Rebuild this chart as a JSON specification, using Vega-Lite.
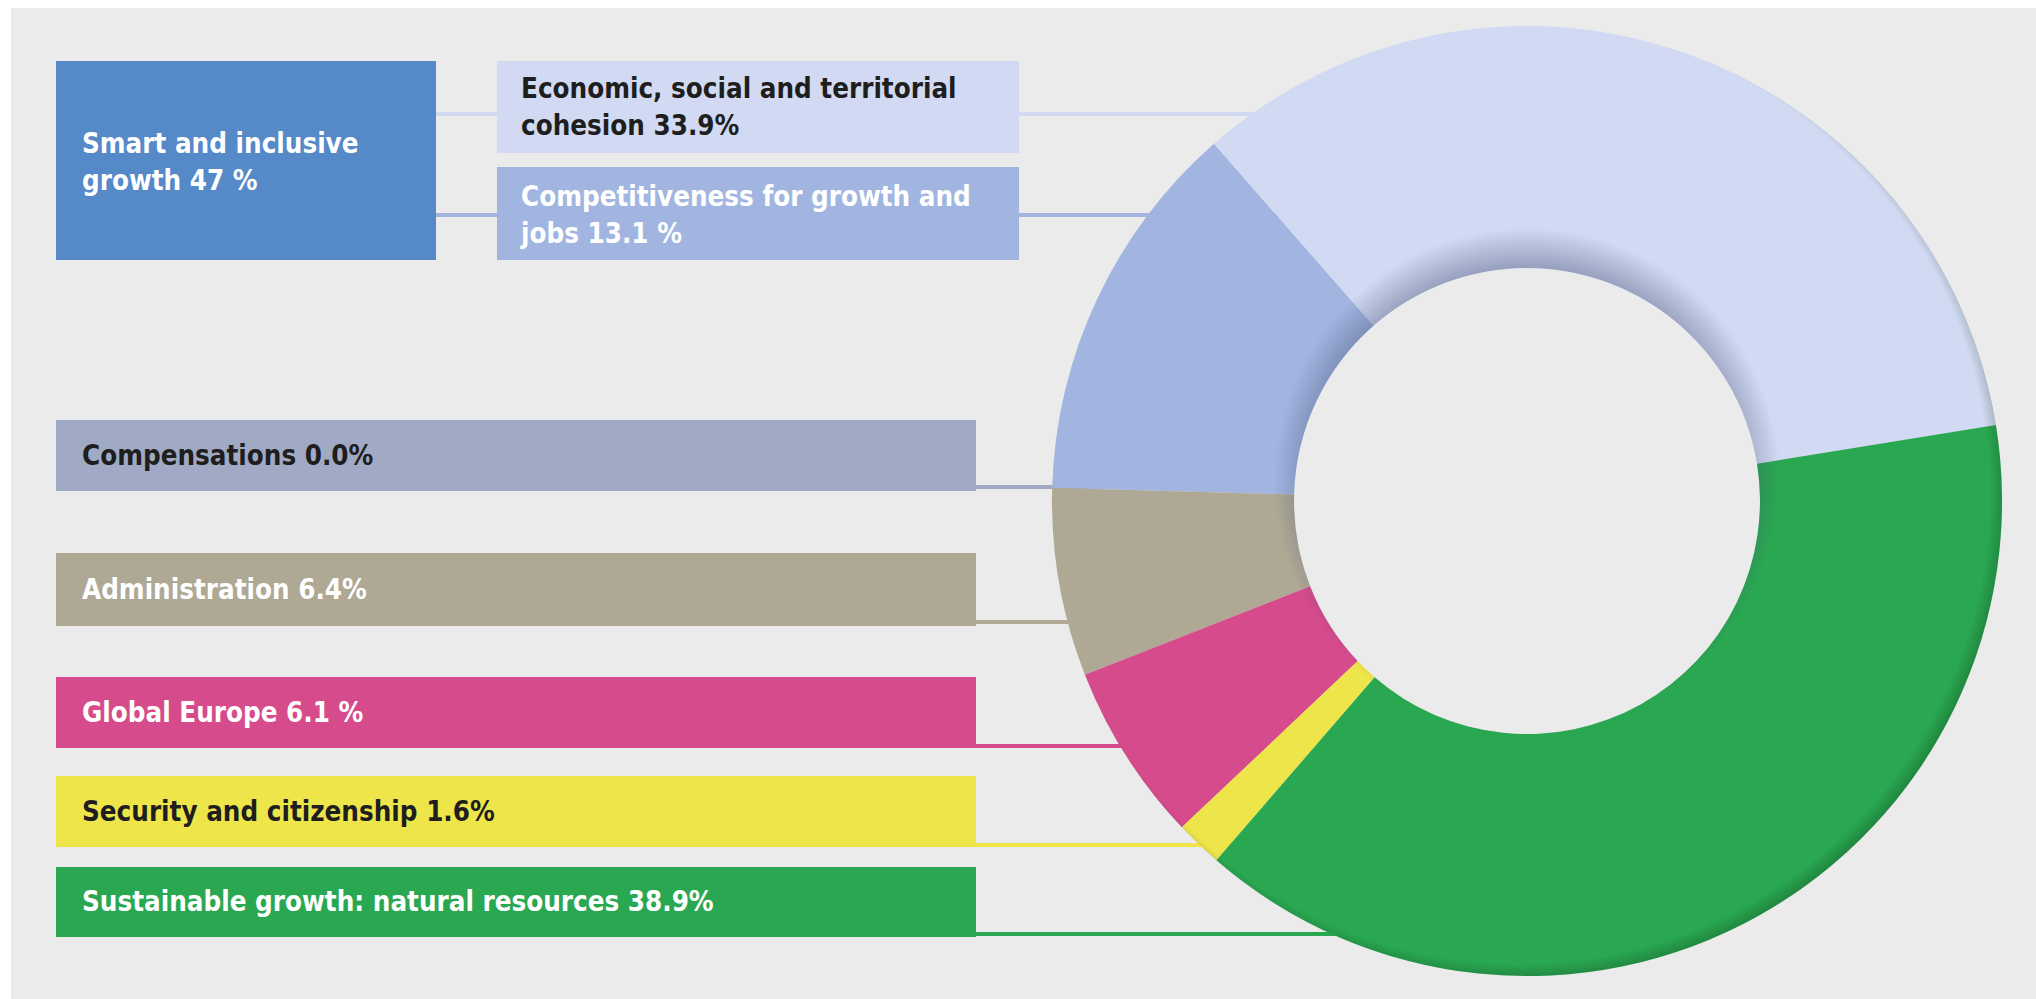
{
  "$schema": "https://vega.github.io/schema/vega-lite/v6.json",
  "width": 2036,
  "height": 999,
  "autosize": {"type": "fit", "contains": "padding"},
  "padding": {"left": 11, "top": 8, "right": 0, "bottom": 0},
  "background": "#FFFFFF",
  "config": {
    "view": {"stroke": null, "fill": "#EBEBEB"},
    "text": {"font": "DejaVu Sans Condensed", "fontWeight": "bold", "fontSize": 27.5, "align": "left", "baseline": "middle", "lineBreak": "\n", "lineHeight": 37}
  },
  "datasets": {
    "items": [
      {"id": "smart", "label": "Smart and inclusive\ngrowth 47 %", "value": 47, "rank": 0},
      {"id": "econ", "label": "Economic, social and territorial\ncohesion 33.9%", "value": 33.9, "rank": 7},
      {"id": "compet", "label": "Competitiveness for growth and\njobs 13.1 %", "value": 13.1, "rank": 6},
      {"id": "comp", "label": "Compensations 0.0%", "value": 0.0, "rank": 5},
      {"id": "admin", "label": "Administration 6.4%", "value": 6.4, "rank": 4},
      {"id": "global", "label": "Global Europe 6.1 %", "value": 6.1, "rank": 3},
      {"id": "security", "label": "Security and citizenship 1.6%", "value": 1.6, "rank": 2},
      {"id": "green", "label": "Sustainable growth: natural resources 38.9%", "value": 38.9, "rank": 1}
    ]
  },
  "data": {"name": "items"},
  "layer": [
    {
      "transform": [{"filter": "datum.id === 'econ'"}],
      "layer": [
        {"mark": {"type": "rule", "strokeWidth": 4, "color": "#D1DAF2"}, "encoding": {"x": {"value": 425}, "x2": {"value": 1400}, "y": {"value": 106}}},
        {"mark": {"type": "rect", "color": "#D1DAF2"}, "encoding": {"x": {"value": 486}, "x2": {"value": 1008}, "y": {"value": 53}, "y2": {"value": 145}}},
        {"mark": {"type": "text", "color": "#1E1E1E"}, "encoding": {"x": {"value": 510}, "y": {"value": 82}, "text": {"field": "label"}}}
      ]
    },
    {
      "transform": [{"filter": "datum.id === 'compet'"}],
      "layer": [
        {"mark": {"type": "rule", "strokeWidth": 4, "color": "#A1B5E0"}, "encoding": {"x": {"value": 425}, "x2": {"value": 1300}, "y": {"value": 207}}},
        {"mark": {"type": "rect", "color": "#A1B5E0"}, "encoding": {"x": {"value": 486}, "x2": {"value": 1008}, "y": {"value": 159}, "y2": {"value": 252}}},
        {"mark": {"type": "text", "color": "#FFFFFF"}, "encoding": {"x": {"value": 510}, "y": {"value": 190}, "text": {"field": "label"}}}
      ]
    },
    {
      "transform": [{"filter": "datum.id === 'smart'"}],
      "layer": [
        {"mark": {"type": "rect", "color": "#5589C8"}, "encoding": {"x": {"value": 45}, "x2": {"value": 425}, "y": {"value": 53}, "y2": {"value": 252}}},
        {"mark": {"type": "text", "color": "#FFFFFF"}, "encoding": {"x": {"value": 71}, "y": {"value": 137}, "text": {"field": "label"}}}
      ]
    },
    {
      "transform": [{"filter": "datum.id === 'comp'"}],
      "layer": [
        {"mark": {"type": "rule", "strokeWidth": 4, "color": "#A0AAC4"}, "encoding": {"x": {"value": 900}, "x2": {"value": 1200}, "y": {"value": 479}}},
        {"mark": {"type": "rect", "color": "#A0AAC4"}, "encoding": {"x": {"value": 45}, "x2": {"value": 965}, "y": {"value": 412}, "y2": {"value": 483}}},
        {"mark": {"type": "text", "color": "#1E1E1E"}, "encoding": {"x": {"value": 71}, "y": {"value": 449}, "text": {"field": "label"}}}
      ]
    },
    {
      "transform": [{"filter": "datum.id === 'admin'"}],
      "layer": [
        {"mark": {"type": "rule", "strokeWidth": 4, "color": "#AEA895"}, "encoding": {"x": {"value": 900}, "x2": {"value": 1200}, "y": {"value": 614}}},
        {"mark": {"type": "rect", "color": "#AEA895"}, "encoding": {"x": {"value": 45}, "x2": {"value": 965}, "y": {"value": 545}, "y2": {"value": 618}}},
        {"mark": {"type": "text", "color": "#FFFFFF"}, "encoding": {"x": {"value": 71}, "y": {"value": 583}, "text": {"field": "label"}}}
      ]
    },
    {
      "transform": [{"filter": "datum.id === 'global'"}],
      "layer": [
        {"mark": {"type": "rule", "strokeWidth": 4, "color": "#D64B8C"}, "encoding": {"x": {"value": 900}, "x2": {"value": 1250}, "y": {"value": 738}}},
        {"mark": {"type": "rect", "color": "#D64B8C"}, "encoding": {"x": {"value": 45}, "x2": {"value": 965}, "y": {"value": 669}, "y2": {"value": 740}}},
        {"mark": {"type": "text", "color": "#FFFFFF"}, "encoding": {"x": {"value": 71}, "y": {"value": 706}, "text": {"field": "label"}}}
      ]
    },
    {
      "transform": [{"filter": "datum.id === 'security'"}],
      "layer": [
        {"mark": {"type": "rule", "strokeWidth": 4, "color": "#EEE54A"}, "encoding": {"x": {"value": 900}, "x2": {"value": 1280}, "y": {"value": 837}}},
        {"mark": {"type": "rect", "color": "#EEE54A"}, "encoding": {"x": {"value": 45}, "x2": {"value": 965}, "y": {"value": 768}, "y2": {"value": 839}}},
        {"mark": {"type": "text", "color": "#1E1E1E"}, "encoding": {"x": {"value": 71}, "y": {"value": 805}, "text": {"field": "label"}}}
      ]
    },
    {
      "transform": [{"filter": "datum.id === 'green'"}],
      "layer": [
        {"mark": {"type": "rule", "strokeWidth": 4, "color": "#2AA851"}, "encoding": {"x": {"value": 900}, "x2": {"value": 1420}, "y": {"value": 926}}},
        {"mark": {"type": "rect", "color": "#2AA851"}, "encoding": {"x": {"value": 45}, "x2": {"value": 965}, "y": {"value": 859}, "y2": {"value": 929}}},
        {"mark": {"type": "text", "color": "#FFFFFF"}, "encoding": {"x": {"value": 71}, "y": {"value": 895}, "text": {"field": "label"}}}
      ]
    },
    {
      "transform": [{"filter": "datum.id !== 'smart'"}],
      "mark": {"type": "arc", "radius": 475, "radius2": 233},
      "encoding": {
        "x": {"value": 1516},
        "y": {"value": 493},
        "theta": {"field": "value", "type": "quantitative", "stack": true, "scale": {"range": [1.4102, 7.6934]}},
        "order": {"field": "rank", "type": "quantitative"},
        "color": {
          "field": "id",
          "type": "nominal",
          "legend": null,
          "scale": {
            "domain": ["econ", "compet", "comp", "admin", "global", "security", "green"],
            "range": ["#D1DAF2", "#A1B5E0", "#A0AAC4", "#AEA895", "#D64B8C", "#EEE54A", "#2AA851"]
          }
        }
      }
    },
    {
      "transform": [{"filter": "datum.id === 'smart'"}],
      "mark": {
        "type": "arc",
        "radius": 300,
        "radius2": 233,
        "color": {
          "gradient": "radial",
          "x1": 0.5, "y1": 0.4667, "r1": 0,
          "x2": 0.5, "y2": 0.4667, "r2": 0.4217,
          "stops": [
            {"offset": 0, "color": "rgba(60,70,110,0.4)"},
            {"offset": 0.842, "color": "rgba(60,70,110,0.4)"},
            {"offset": 1, "color": "rgba(60,70,110,0)"}
          ]
        }
      },
      "encoding": {
        "x": {"value": 1516},
        "y": {"value": 493},
        "theta": {"value": 0},
        "theta2": {"value": 6.2832}
      }
    },
    {
      "transform": [{"filter": "datum.id === 'smart'"}],
      "mark": {
        "type": "arc",
        "radius": 475,
        "radius2": 440,
        "color": {
          "gradient": "radial",
          "x1": 0.4916, "y1": 0.4916, "r1": 0,
          "x2": 0.4916, "y2": 0.4916, "r2": 0.5158,
          "stops": [
            {"offset": 0, "color": "rgba(0,30,10,0)"},
            {"offset": 0.959, "color": "rgba(0,30,10,0)"},
            {"offset": 1, "color": "rgba(0,30,10,0.3)"}
          ]
        }
      },
      "encoding": {
        "x": {"value": 1516},
        "y": {"value": 493},
        "theta": {"value": 0},
        "theta2": {"value": 6.2832}
      }
    }
  ]
}
